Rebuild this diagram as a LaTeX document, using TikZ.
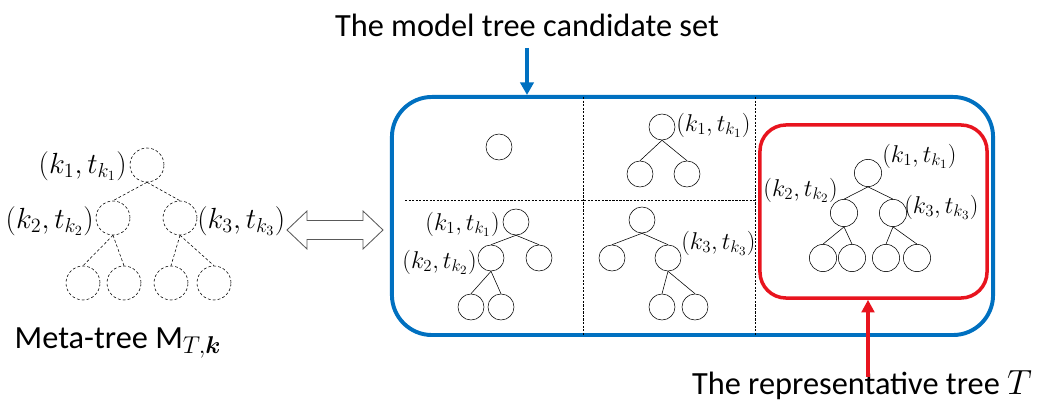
\documentclass[tikz,border=0pt]{standalone}
\usepackage{amsmath}
\usepackage{amssymb}
\usepackage{fontspec}
\setmainfont{Carlito}
\usetikzlibrary{shapes,arrows,arrows.meta,positioning}

\definecolor{setblue}{RGB}{0,112,192}
\definecolor{repred}{RGB}{232,20,30}
\newcommand{\pairlbl}[1]{$(k_{#1},t_{k_{#1}})$}

\tikzset{
    metanode/.style={circle, draw, dash pattern=on 2pt off 1.5pt, minimum size=0.85cm, inner sep=0pt},
    metaedge/.style={dash pattern=on 2pt off 1.5pt},
    treenode/.style={circle, draw, minimum size=0.65cm, inner sep=0pt},
    reptree/.style={circle, draw, minimum size=0.68cm, inner sep=0pt},
    bigtext/.style={font=\fontsize{23}{27}\selectfont, inner sep=0pt},
    lbl/.style={font=\fontsize{20}{22}\selectfont, inner sep=0pt},
    smalllbl/.style={font=\fontsize{17.5}{20}\selectfont, inner sep=0pt},
    divider/.style={dash pattern=on 1.5pt off 1pt, line width=0.5pt}
}

\begin{document}
\begin{tikzpicture}[x=0.025cm, y=-0.025cm]
    \useasboundingbox (0,0) rectangle (1039,411);

    % Meta-tree on the left
    \node[metanode] (m0) at (147,165) {};
    \node[metanode] (m1) at (113,218) {};
    \node[metanode] (m2) at (180,218) {};
    \node[metanode] (m11) at (83,283) {};
    \node[metanode] (m12) at (124,283) {};
    \node[metanode] (m21) at (171,283) {};
    \node[metanode] (m22) at (214,283) {};
    \foreach \a/\b in {m0/m1, m0/m2, m1/m11, m1/m12, m2/m21, m2/m22} {
        \draw[metaedge] (\a.south) -- (\b.north);
    }
    \node[lbl, anchor=east] (lm0) at (127,166) {\pairlbl{1}};
    \node[lbl, anchor=east] (lm1) at (94,221) {\pairlbl{2}};
    \node[lbl, anchor=west] (lm2) at (197,221) {\pairlbl{3}};
    \node[bigtext] (metacap) at (118,343) {Meta-tree $\mathrm{M}_{T,\boldsymbol{k}}$};

    % Hollow double arrow
    \draw[gray!70!black, line width=0.6pt, fill=white]
        (287,230) -- (307,211) -- (307,220.5) -- (363,220.5) -- (363,211) -- (383,230)
        -- (363,249) -- (363,239.5) -- (307,239.5) -- (307,249) -- cycle;

    % Candidate set box
    \node[draw=setblue, line width=2.8pt, rounded corners=1cm,
          minimum width=15.025cm, minimum height=5.95cm] (cand) at (692.5,216) {};
    \draw[divider] (583,97) -- (583,335);
    \draw[divider] (755,97) -- (755,335);
    \draw[divider] (405,200) -- (755,200);
    \node[bigtext] (settitle) at (527,25) {The model tree candidate set};
    \coordinate (btail) at (527,48);
    \draw[setblue, line width=2.2pt, -{Triangle[length=9pt,width=9.5pt]}] (btail) -- (btail |- cand.north);

    % Cell 1: single root
    \node[treenode] (a0) at (499,147) {};

    % Cell 2: root with two leaves
    \node[treenode] (b0) at (662,127) {};
    \node[treenode] (b1) at (640,174) {};
    \node[treenode] (b2) at (687,174) {};
    \draw (b0.south) -- (b1.north);
    \draw (b0.south) -- (b2.north);
    \node[smalllbl, anchor=west] (lb0) at (676,125) {\pairlbl{1}};

    % Cell 3: left child split
    \node[treenode] (c0) at (516,222) {};
    \node[treenode] (c1) at (491,258) {};
    \node[treenode] (c2) at (539,258) {};
    \node[treenode] (c11) at (471,307) {};
    \node[treenode] (c12) at (501,307) {};
    \foreach \a/\b in {c0/c1, c0/c2, c1/c11, c1/c12} {
        \draw (\a.south) -- (\b.north);
    }
    \node[smalllbl, anchor=east] (lc0) at (500,224) {\pairlbl{1}};
    \node[smalllbl, anchor=east] (lc1) at (477,262) {\pairlbl{2}};

    % Cell 4: right child split
    \node[treenode] (d0) at (642,220) {};
    \node[treenode] (d1) at (612,258) {};
    \node[treenode] (d2) at (668,258) {};
    \node[treenode] (d21) at (662,307) {};
    \node[treenode] (d22) at (695,307) {};
    \foreach \a/\b in {d0/d1, d0/d2, d2/d21, d2/d22} {
        \draw (\a.south) -- (\b.north);
    }
    \node[smalllbl, anchor=west] (ld2) at (681,243) {\pairlbl{3}};

    % Representative tree
    \node[draw=repred, line width=2.5pt, rounded corners=0.65cm,
          minimum width=5.675cm, minimum height=4.325cm] (rep) at (873.5,211.5) {};
    \node[reptree] (r0) at (868,173) {};
    \node[reptree] (r1) at (844,213) {};
    \node[reptree] (r2) at (893,213) {};
    \node[reptree] (r11) at (823,258) {};
    \node[reptree] (r12) at (852,258) {};
    \node[reptree] (r21) at (886,258) {};
    \node[reptree] (r22) at (917,258) {};
    \foreach \a/\b in {r0/r1, r0/r2, r1/r11, r1/r12, r2/r21, r2/r22} {
        \draw (\a.south) -- (\b.north);
    }
    \node[smalllbl, anchor=west] (lr0) at (882,156) {\pairlbl{1}};
    \node[smalllbl, anchor=east] (lr1) at (838,190) {\pairlbl{2}};
    \node[smalllbl, anchor=west] (lr2) at (904,207) {\pairlbl{3}};
    \node[bigtext] (reptitle) at (862,385) {The representative tree $T$};
    \coordinate (rtail) at (868,377);
    \draw[repred, line width=2.2pt, -{Triangle[length=9pt,width=9pt]}] (rtail) -- (rtail |- rep.south);
\end{tikzpicture}
\end{document}
